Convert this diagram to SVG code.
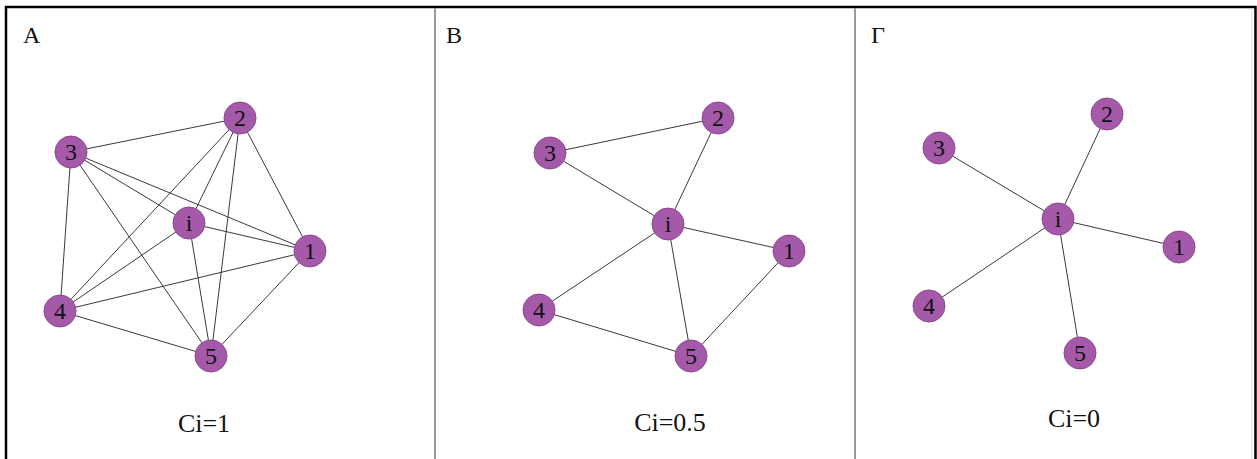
<svg xmlns="http://www.w3.org/2000/svg" width="1257" height="459" viewBox="0 0 1257 459">
<style>
.bg{fill:#ffffff}
.frame{fill:none;stroke:#000;stroke-width:2.5}
.div{stroke:#9a9a9a;stroke-width:2}
.e{stroke:#3a3a3a;stroke-width:1}
.n circle{fill:#a55aa9;stroke:#8c4790;stroke-width:1}
text{font-family:"Liberation Serif","Times New Roman","DejaVu Serif",serif;fill:#111}
.n text{font-size:24px;text-anchor:middle}
.t{font-size:24px}
.c{font-size:26px;text-anchor:middle}
</style>
<rect class="bg" x="0" y="0" width="1257" height="459"/>
<rect class="frame" x="6" y="7" width="1249.5" height="460"/>
<line class="div" x1="435" y1="8" x2="435" y2="459"/>
<line class="div" x1="855" y1="8" x2="855" y2="459"/>
<line x1="1252" y1="8" x2="1252" y2="459" stroke="#dddddd" stroke-width="1"/>
<text class="t" x="23" y="43">A</text>
<text class="t" x="446" y="43">B</text>
<text class="t" x="871" y="43">Γ</text>
<text class="c" x="204" y="432">Ci=1</text>
<text class="c" x="670" y="431">Ci=0.5</text>
<text class="c" x="1074" y="427">Ci=0</text>
<g id="connectors">
<line class="e" x1="71" y1="152" x2="240" y2="118"/>
<line class="e" x1="71" y1="152" x2="189" y2="223"/>
<line class="e" x1="71" y1="152" x2="310" y2="251"/>
<line class="e" x1="71" y1="152" x2="60" y2="311"/>
<line class="e" x1="71" y1="152" x2="211" y2="356"/>
<line class="e" x1="240" y1="118" x2="189" y2="223"/>
<line class="e" x1="240" y1="118" x2="310" y2="251"/>
<line class="e" x1="240" y1="118" x2="60" y2="311"/>
<line class="e" x1="240" y1="118" x2="211" y2="356"/>
<line class="e" x1="189" y1="223" x2="310" y2="251"/>
<line class="e" x1="189" y1="223" x2="60" y2="311"/>
<line class="e" x1="189" y1="223" x2="211" y2="356"/>
<line class="e" x1="310" y1="251" x2="60" y2="311"/>
<line class="e" x1="310" y1="251" x2="211" y2="356"/>
<line class="e" x1="60" y1="311" x2="211" y2="356"/>
<line class="e" x1="550" y1="153" x2="718" y2="118"/>
<line class="e" x1="550" y1="153" x2="668" y2="224"/>
<line class="e" x1="718" y1="118" x2="668" y2="224"/>
<line class="e" x1="668" y1="224" x2="789" y2="251"/>
<line class="e" x1="668" y1="224" x2="539" y2="310"/>
<line class="e" x1="668" y1="224" x2="691" y2="356"/>
<line class="e" x1="539" y1="310" x2="691" y2="356"/>
<line class="e" x1="789" y1="251" x2="691" y2="356"/>
<line class="e" x1="1058" y1="219" x2="1107" y2="114"/>
<line class="e" x1="1058" y1="219" x2="939" y2="148"/>
<line class="e" x1="1058" y1="219" x2="1179" y2="247"/>
<line class="e" x1="1058" y1="219" x2="929" y2="306"/>
<line class="e" x1="1058" y1="219" x2="1080" y2="353"/>
</g>
<g id="A-2" class="n"><circle cx="240" cy="118" r="16"/><text x="240" y="126">2</text></g>
<g id="A-3" class="n"><circle cx="71" cy="152" r="16"/><text x="71" y="160">3</text></g>
<g id="A-i" class="n"><circle cx="189" cy="223" r="16"/><text x="189" y="231">i</text></g>
<g id="A-1" class="n"><circle cx="310" cy="251" r="16"/><text x="310" y="259">1</text></g>
<g id="A-4" class="n"><circle cx="60" cy="311" r="16"/><text x="60" y="319">4</text></g>
<g id="A-5" class="n"><circle cx="211" cy="356" r="16"/><text x="211" y="364">5</text></g>
<g id="B-2" class="n"><circle cx="718" cy="118" r="16"/><text x="718" y="126">2</text></g>
<g id="B-3" class="n"><circle cx="550" cy="153" r="16"/><text x="550" y="161">3</text></g>
<g id="B-i" class="n"><circle cx="668" cy="224" r="16"/><text x="668" y="232">i</text></g>
<g id="B-1" class="n"><circle cx="789" cy="251" r="16"/><text x="789" y="259">1</text></g>
<g id="B-4" class="n"><circle cx="539" cy="310" r="16"/><text x="539" y="318">4</text></g>
<g id="B-5" class="n"><circle cx="691" cy="356" r="16"/><text x="691" y="364">5</text></g>
<g id="G-2" class="n"><circle cx="1107" cy="114" r="16"/><text x="1107" y="122">2</text></g>
<g id="G-3" class="n"><circle cx="939" cy="148" r="16"/><text x="939" y="156">3</text></g>
<g id="G-i" class="n"><circle cx="1058" cy="219" r="16"/><text x="1058" y="227">i</text></g>
<g id="G-1" class="n"><circle cx="1179" cy="247" r="16"/><text x="1179" y="255">1</text></g>
<g id="G-4" class="n"><circle cx="929" cy="306" r="16"/><text x="929" y="314">4</text></g>
<g id="G-5" class="n"><circle cx="1080" cy="353" r="16"/><text x="1080" y="361">5</text></g>
</svg>
